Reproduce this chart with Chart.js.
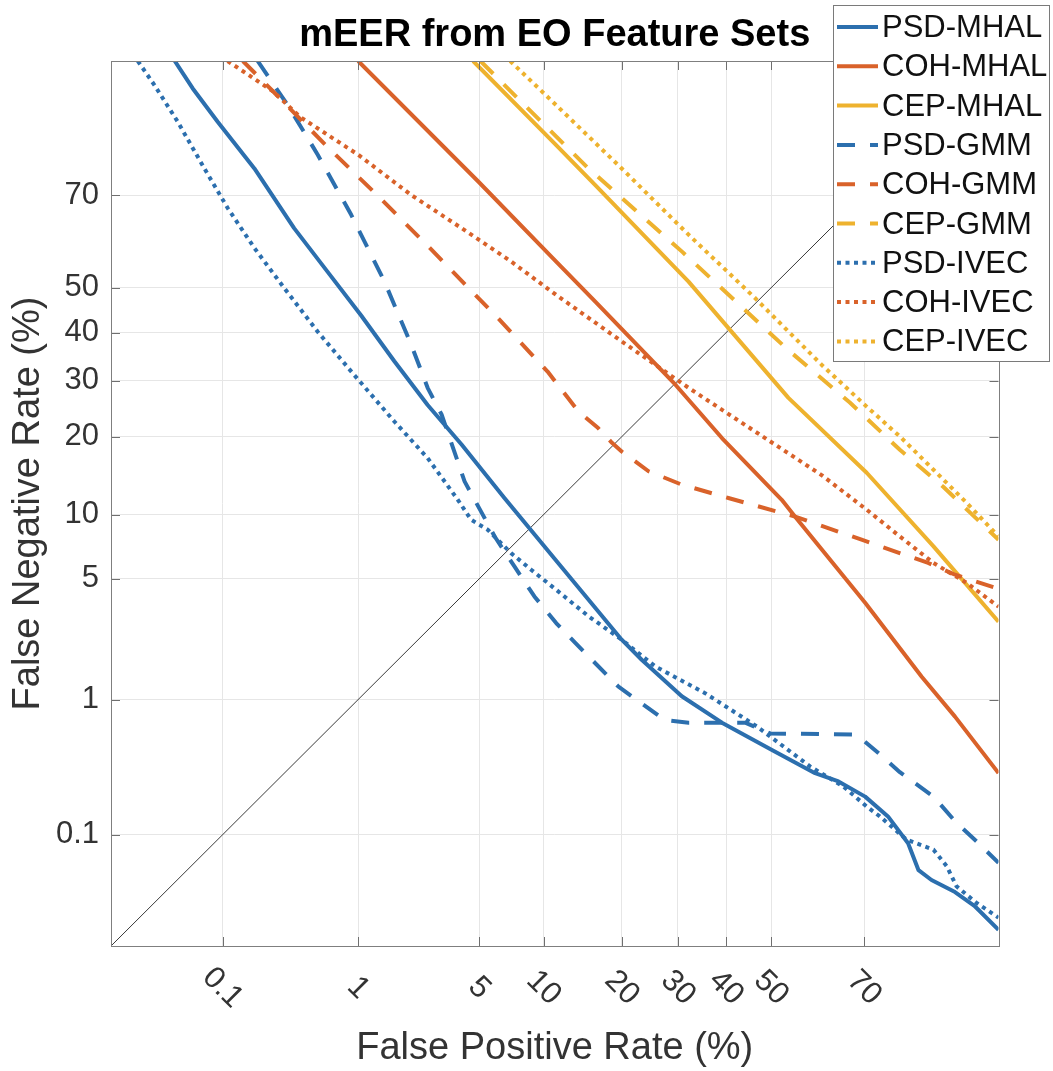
<!DOCTYPE html>
<html>
<head>
<meta charset="utf-8">
<title>mEER from EO Feature Sets</title>
<script src="https://cdn.jsdelivr.net/npm/chart.js@4.4.1/dist/chart.umd.min.js"></script>
<style>
  html, body { margin: 0; padding: 0; background: #fff; }
  #wrap { width: 1053px; height: 1071px; }
</style>
</head>
<body>
<div id="wrap"><canvas id="detChart" width="1053" height="1071"></canvas></div>
<script>
const FONT = '"Liberation Sans", Arial, Helvetica, sans-serif'

// axis range and ticks, in percent
const axisMin = 0.01
const axisMax = 90
const tickValues = [0.1, 1, 5, 10, 20, 30, 40, 50, 70]
const tickLabels = ['0.1', '1', '5', '10', '20', '30', '40', '50', '70']

// curves: false positive rate (%) and false negative rate (%)
const psdMhalFpr = [0.039, 0.056, 0.091, 0.18, 0.36, 0.62, 1.04, 1.69, 2.65, 4.06, 6.65, 11.2, 20.0, 23.3, 30.75, 39.1, 50.2, 59.8, 64.8, 70.2, 74.5, 78.0, 79.7, 81.7, 85.0, 87.4, 90]
const psdMhalFnr = [90, 87.0, 82.6, 75.0, 63.2, 53.7, 43.9, 33.9, 25.4, 18.8, 11.75, 6.24, 2.34, 1.78, 1.05, 0.70, 0.45, 0.305, 0.264, 0.202, 0.141, 0.085, 0.050, 0.041, 0.032, 0.024, 0.0143]

const cohMhalFpr = [1.0, 4.95, 11.3, 16.1, 29.5, 39.1, 52.4, 55.4, 70.2, 80.2, 85.0, 90]
const cohMhalFnr = [90, 72.6, 55.9, 46.9, 29.2, 19.8, 11.55, 9.8, 3.76, 1.40, 0.77, 0.305]

const cepMhalFpr = [4.66, 11.3, 16.1, 32.1, 53.9, 70.5, 82.0, 90]
const cepMhalFnr = [90, 79.0, 71.9, 51.4, 26.7, 14.8, 7.2, 2.96]

const psdGmmFpr = [0.191, 0.323, 0.532, 0.90, 1.47, 2.13, 2.65, 3.17, 4.21, 5.97, 7.41, 9.12, 11.3, 13.5, 19.5, 27.5, 32.1, 44.2, 49.8, 67.8, 69.8, 73.0, 76.6, 82.0, 85.2, 87.65, 90]
const psdGmmFnr = [90, 84.9, 77.4, 66.0, 51.4, 37.4, 28.6, 23.7, 13.7, 8.0, 5.77, 4.06, 2.91, 2.24, 1.21, 0.73, 0.70, 0.70, 0.59, 0.58, 0.53, 0.42, 0.31, 0.202, 0.125, 0.088, 0.058]

const cohGmmFpr = [0.146, 0.267, 0.616, 1.32, 2.68, 6.31, 10.4, 13.9, 16.5, 18.5, 20.0, 24.5, 30.75, 40.5, 55.4, 69.5, 81.2, 85.0, 90]
const cohGmmFnr = [90, 86.2, 78.8, 70.0, 59.2, 42.8, 31.8, 24.2, 21.4, 19.05, 17.75, 15.0, 13.3, 11.75, 9.8, 7.73, 6.0, 5.25, 4.45]

const cepGmmFpr = [5.08, 7.79, 15.1, 30.8, 53.8, 67.2, 76.6, 83.4, 86.9, 90]
const cepGmmFnr = [90, 85.6, 75.1, 58.1, 36.3, 25.8, 18.0, 13.05, 10.2, 7.73]

const psdIvecFpr = [0.018, 0.0256, 0.0414, 0.0704, 0.110, 0.18, 0.305, 0.532, 0.94, 1.69, 2.65, 3.88, 4.55, 5.52, 7.15, 8.82, 11.3, 15.2, 20.0, 25.7, 35.5, 46.8, 58.7, 65.8, 70.5, 73.0, 77.75, 82.0, 83.9, 85.2, 87.65, 90]
const psdIvecFnr = [90, 87.4, 82.6, 75.0, 67.4, 58.9, 49.9, 40.2, 31.15, 22.5, 16.8, 11.55, 9.5, 8.58, 6.69, 5.56, 4.40, 3.17, 2.34, 1.62, 1.10, 0.66, 0.342, 0.242, 0.169, 0.141, 0.091, 0.075, 0.054, 0.036, 0.0255, 0.0186]

const cohIvecFpr = [0.110, 0.253, 0.397, 1.0, 2.13, 4.06, 7.15, 11.3, 20.0, 32.1, 46.4, 61.2, 70.5, 76.6, 82.0, 86.5, 90]
const cohIvecFnr = [90, 86.6, 83.3, 77.4, 70.0, 63.2, 55.9, 48.4, 38.1, 28.6, 20.85, 14.5, 10.5, 8.0, 6.0, 4.77, 3.58]

const cepIvecFpr = [7.08, 11.3, 20.0, 32.1, 46.4, 61.2, 70.5, 76.6, 82.0, 86.5, 90]
const cepIvecFnr = [90, 84.9, 75.0, 61.8, 47.7, 33.2, 25.1, 20.05, 15.2, 11.2, 8.0]

// equal error line, corner to corner
const eerLine = [axisMin, axisMax]

const BLUE = '#2c6fae'
const ORANGE = '#d9622a'
const YELLOW = '#eeb22e'
const SOLID = []
const DASHED = [18, 15]
const DOTTED = [4, 4.5]

// inverse of the normal cdf (Acklam), used for the DET axes
function probit(p) {
  const a = [-3.969683028665376e+01, 2.209460984245205e+02, -2.759285104469687e+02, 1.383577518672690e+02, -3.066479806614716e+01, 2.506628277459239e+00]
  const b = [-5.447609879822406e+01, 1.615858368580409e+02, -1.556989798598866e+02, 6.680131188771972e+01, -1.328068155288572e+01]
  const c = [-7.784894002430293e-03, -3.223964580411365e-01, -2.400758277161838e+00, -2.549732539343734e+00, 4.374664141464968e+00, 2.938163982698783e+00]
  const d = [7.784695709041462e-03, 3.224671290700398e-01, 2.445134137142996e+00, 3.754408661907416e+00]
  const pl = 0.02425
  let q, r
  if (p < pl) {
    q = Math.sqrt(-2 * Math.log(p))
    return (((((c[0] * q + c[1]) * q + c[2]) * q + c[3]) * q + c[4]) * q + c[5]) / ((((d[0] * q + d[1]) * q + d[2]) * q + d[3]) * q + 1)
  }
  if (p > 1 - pl) {
    q = Math.sqrt(-2 * Math.log(1 - p))
    return -(((((c[0] * q + c[1]) * q + c[2]) * q + c[3]) * q + c[4]) * q + c[5]) / ((((d[0] * q + d[1]) * q + d[2]) * q + d[3]) * q + 1)
  }
  q = p - 0.5
  r = q * q
  return (((((a[0] * r + a[1]) * r + a[2]) * r + a[3]) * r + a[4]) * r + a[5]) * q / (((((b[0] * r + b[1]) * r + b[2]) * r + b[3]) * r + b[4]) * r + 1)
}

function serie(label, fpr, fnr, color, dash, order) {
  return {
    label: label,
    data: fpr.map((v, i) => ({ x: probit(v / 100), y: probit(fnr[i] / 100) })),
    borderColor: color,
    backgroundColor: color,
    borderWidth: 4,
    borderDash: dash,
    borderCapStyle: 'butt',
    borderJoinStyle: 'round',
    pointRadius: 0,
    pointHoverRadius: 0,
    tension: 0,
    fill: false,
    clip: 0,
    order: order
  }
}

const datasets = [
  serie('PSD-MHAL', psdMhalFpr, psdMhalFnr, BLUE, SOLID, 9),
  serie('COH-MHAL', cohMhalFpr, cohMhalFnr, ORANGE, SOLID, 8),
  serie('CEP-MHAL', cepMhalFpr, cepMhalFnr, YELLOW, SOLID, 7),
  serie('PSD-GMM', psdGmmFpr, psdGmmFnr, BLUE, DASHED, 6),
  serie('COH-GMM', cohGmmFpr, cohGmmFnr, ORANGE, DASHED, 5),
  serie('CEP-GMM', cepGmmFpr, cepGmmFnr, YELLOW, DASHED, 4),
  serie('PSD-IVEC', psdIvecFpr, psdIvecFnr, BLUE, DOTTED, 3),
  serie('COH-IVEC', cohIvecFpr, cohIvecFnr, ORANGE, DOTTED, 2),
  serie('CEP-IVEC', cepIvecFpr, cepIvecFnr, YELLOW, DOTTED, 1)
]
const eer = serie('EER', eerLine, eerLine, '#3a3a3a', SOLID, 10)
eer.borderWidth = 1
datasets.push(eer)

function probitTicks(scale) {
  scale.ticks = tickValues.map(v => ({ value: probit(v / 100) }))
}

// box, inward tick marks, rotated x labels and the legend
const detDecor = {
  id: 'detDecor',
  afterDraw(chart) {
    const ctx = chart.ctx
    const area = chart.chartArea
    const xs = chart.scales.x
    const ys = chart.scales.y
    ctx.save()

    ctx.strokeStyle = '#6f6f6f'
    ctx.lineWidth = 1
    ctx.beginPath()
    tickValues.forEach(v => {
      const px = Math.round(xs.getPixelForValue(probit(v / 100))) + 0.5
      ctx.moveTo(px, area.bottom); ctx.lineTo(px, area.bottom - 9)
      ctx.moveTo(px, area.top); ctx.lineTo(px, area.top + 9)
      const py = Math.round(ys.getPixelForValue(probit(v / 100))) + 0.5
      ctx.moveTo(area.left, py); ctx.lineTo(area.left + 9, py)
      ctx.moveTo(area.right, py); ctx.lineTo(area.right - 9, py)
    })
    ctx.stroke()
    ctx.strokeStyle = '#7f7f7f'
    ctx.strokeRect(Math.round(area.left) + 0.5, Math.round(area.top) + 0.5, Math.round(area.right - area.left), Math.round(area.bottom - area.top))

    ctx.fillStyle = '#333'
    ctx.font = '31px ' + FONT
    ctx.textAlign = 'center'
    ctx.textBaseline = 'middle'
    tickValues.forEach((v, i) => {
      const px = xs.getPixelForValue(probit(v / 100))
      ctx.save()
      ctx.translate(px, area.bottom + 42)
      ctx.rotate(Math.PI / 4)
      ctx.fillText(tickLabels[i], 0, 0)
      ctx.restore()
    })

    // legend
    const lx = 833, ly = 5, lw = 216, lh = 356
    ctx.fillStyle = '#fff'
    ctx.fillRect(lx, ly, lw, lh)
    ctx.strokeStyle = '#7a7a7a'
    ctx.lineWidth = 1
    ctx.strokeRect(lx + 0.5, ly + 0.5, lw, lh)
    ctx.textAlign = 'left'
    ctx.font = '31px ' + FONT
    chart.data.datasets.filter(ds => ds.label !== 'EER').forEach((ds, i) => {
      const rowY = 27 + i * 39.3
      ctx.save()
      ctx.strokeStyle = ds.borderColor
      ctx.lineWidth = 4
      ctx.lineCap = 'butt'
      ctx.setLineDash(ds.borderDash)
      ctx.beginPath()
      ctx.moveTo(837, rowY)
      ctx.lineTo(878, rowY)
      ctx.stroke()
      ctx.restore()
      ctx.fillStyle = '#111'
      ctx.fillText(ds.label, 882, rowY + 1.5)
    })
    ctx.restore()
  }
}

new Chart(document.getElementById('detChart'), {
  type: 'line',
  data: { datasets: datasets },
  options: {
    responsive: false,
    animation: false,
    devicePixelRatio: 1,
    layout: { padding: { left: 0, right: 54.5, top: 0, bottom: 0 } },
    plugins: {
      legend: { display: false },
      tooltip: { enabled: false },
      title: {
        display: true,
        text: 'mEER from EO Feature Sets',
        fullSize: false,
        color: '#000',
        font: { family: FONT, size: 38, weight: 'bold' },
        padding: { top: 13, bottom: 2.4 }
      }
    },
    scales: {
      x: {
        type: 'linear',
        min: probit(axisMin / 100),
        max: probit(axisMax / 100),
        afterBuildTicks: probitTicks,
        afterFit: s => { s.height = 125 },
        ticks: { display: false },
        grid: { color: '#e6e6e6', lineWidth: 1, drawTicks: false },
        border: { display: false },
        title: {
          display: true,
          text: 'False Positive Rate (%)',
          color: '#333',
          font: { family: FONT, size: 38 },
          padding: { top: 0, bottom: 0 }
        }
      },
      y: {
        type: 'linear',
        min: probit(axisMin / 100),
        max: probit(axisMax / 100),
        afterBuildTicks: probitTicks,
        afterFit: s => { s.width = 111 },
        ticks: {
          autoSkip: false,
          padding: 12,
          color: '#333',
          font: { family: FONT, size: 31 },
          callback: (value, index) => tickLabels[index]
        },
        grid: { color: '#e6e6e6', lineWidth: 1, drawTicks: false },
        border: { display: false },
        title: {
          display: true,
          text: 'False Negative Rate (%)',
          color: '#333',
          font: { family: FONT, size: 38 },
          padding: { top: 6, bottom: 0 }
        }
      }
    }
  },
  plugins: [detDecor]
})
</script>
</body>
</html>
